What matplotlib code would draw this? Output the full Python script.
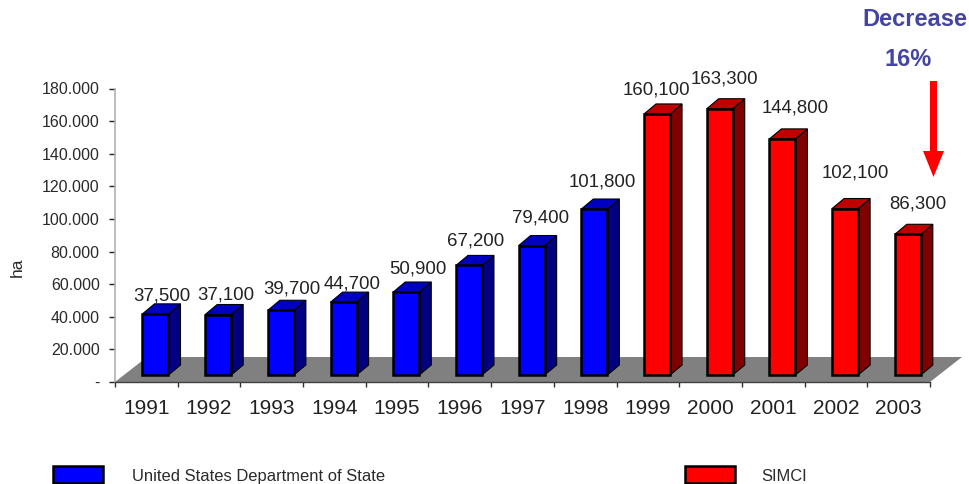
import matplotlib
matplotlib.use("Agg")
import matplotlib.pyplot as plt
from matplotlib.patches import Polygon, Rectangle, FancyArrow
from matplotlib.transforms import ScaledTranslation

plt.rcParams['font.family'] = ['Liberation Sans', 'DejaVu Sans']

# Data
years = ["1991", "1992", "1993", "1994", "1995", "1996", "1997", "1998", "1999", "2000", "2001", "2002", "2003"]
hectares = [37500, 37100, 39700, 44700, 50900, 67200, 79400, 101800, 160100, 163300, 144800, 102100, 86300]
labels = ["37,500", "37,100", "39,700", "44,700", "50,900", "67,200", "79,400", "101,800", "160,100", "163,300", "144,800", "102,100", "86,300"]
sources = ["United States Department of State"] * 8 + ["SIMCI"] * 5
y_ticks = [0, 20000, 40000, 60000, 80000, 100000, 120000, 140000, 160000, 180000]
y_tick_labels = ["-", "20.000", "40.000", "60.000", "80.000", "100.000", "120.000", "140.000", "160.000", "180.000"]

# Styles
face = {"United States Department of State": "#0000ff", "SIMCI": "#ff0000"}
top = {"United States Department of State": "#0000c0", "SIMCI": "#c00000"}
side = {"United States Department of State": "#000080", "SIMCI": "#800000"}

# Hand placed value labels, pixels from the top centre of each bar front
label_offsets = [(6, 19), (8, 21), (11, 22.5), (8.5, 19), (12, 24.5), (7, 25), (8.5, 29),
                 (8, 28), (-1, 24.5), (5, 31), (13, 32), (10.5, 37), (10, 31)]

W, H = 970, 485
fig = plt.figure(figsize=(W / 100, H / 100), dpi=100)
ax = fig.add_axes([115 / W, 1 - 383 / H, (930 - 115) / W, (383 - 89.5) / H])
ax.set_xlim(0, len(years))
ax.set_ylim(0, 180000)

px_x = len(years) / (930 - 115)
px_y = 180000 / (383 - 89.5)

# Grey floor
floor_dx, floor_dy = 32 * px_x, 25 * px_y
ax.add_patch(Polygon([(0, 0), (len(years), 0), (len(years) + floor_dx, floor_dy), (floor_dx, floor_dy)],
                     closed=True, facecolor="#808080", edgecolor="none", clip_on=False, zorder=1))

# Bars, faked 3D
bar_w = 26 * px_x
bar_shift = 0.646
base = 7 * px_y
dx, dy = 12 * px_x, 10 * px_y

for i, v in enumerate(hectares):
    s = sources[i]
    x0 = i + bar_shift - bar_w / 2
    x1 = x0 + bar_w
    y0 = base
    y1 = base + v
    ax.add_patch(Polygon([(x1, y0), (x1 + dx, y0 + dy), (x1 + dx, y1 + dy), (x1, y1)], closed=True,
                         facecolor=side[s], edgecolor="black", lw=0.8, clip_on=False, zorder=3))
    ax.add_patch(Polygon([(x0, y1), (x1, y1), (x1 + dx, y1 + dy), (x0 + dx, y1 + dy)], closed=True,
                         facecolor=top[s], edgecolor="black", lw=0.8, clip_on=False, zorder=3))
    ax.add_patch(Rectangle((x0, y0), bar_w, v, facecolor=face[s], edgecolor="black", lw=1.8,
                           clip_on=False, zorder=4))
    ax.annotate(labels[i], xy=(i + bar_shift, y1), xytext=label_offsets[i], textcoords="offset pixels",
                ha="center", va="center", fontsize=13.4, color="#222222", zorder=5, annotation_clip=False)

# Axes
for sp in ["top", "right"]:
    ax.spines[sp].set_visible(False)
ax.spines["left"].set_color("#b0b0b0")
ax.spines["left"].set_linewidth(1.2)
ax.spines["bottom"].set_color("#404040")
ax.spines["bottom"].set_linewidth(1.0)
ax.set_yticks(y_ticks)
ax.set_yticklabels(y_tick_labels, fontsize=11.5, color="#2a2a2a")
ax.tick_params(axis="y", length=4, width=1, pad=7, color="#222222")
ax.set_xticks(range(len(years) + 1))
ax.set_xticklabels([])
ax.tick_params(axis="x", which="major", length=3.5, width=1, color="#333333")
ax.set_xticks([i + 0.5 for i in range(len(years))], minor=True)
ax.set_xticklabels(years, minor=True, fontsize=15, color="#222222")
ax.tick_params(axis="x", which="minor", length=0, pad=11.5)
# the printed y labels sit a little above their ticks
nudge = ScaledTranslation(0, 1 / 100, fig.dpi_scale_trans)
for t in ax.get_yticklabels():
    t.set_transform(t.get_transform() + nudge)
fig.text(17 / W, 1 - 267 / H, "ha", rotation=90, ha="center", va="center", fontsize=12.5, color="#2a2a2a")

# Decrease note and arrow
fig.text(915 / W, 1 - 19 / H, "Decrease", ha="center", va="center", fontsize=17, fontweight="bold", color="#4444a4")
fig.text(908.5 / W, 1 - 60 / H, "16%", ha="center", va="center", fontsize=17, fontweight="bold", color="#4444a4")
fig.add_artist(FancyArrow(933.5 / W, 1 - 82 / H, 0, -96 / H, width=7 / W, head_width=21 / W, head_length=26 / H,
                          length_includes_head=True, color="#ff0000", lw=0, transform=fig.transFigure))

# Legend, drawn by hand to sit at the bottom edge
for x_box, x_text, name in [(53, 132, sources[0]), (685, 761, sources[-1])]:
    fig.add_artist(Rectangle((x_box / W, 1 - 483.5 / H), 50 / W, 17 / H, facecolor=face[name], edgecolor="black",
                             lw=1.8, transform=fig.transFigure))
    fig.text(x_text / W, 1 - 477 / H, name, ha="left", va="center", fontsize=11.9, color="#2a2a2a")

fig.savefig("out.png", dpi=100)
